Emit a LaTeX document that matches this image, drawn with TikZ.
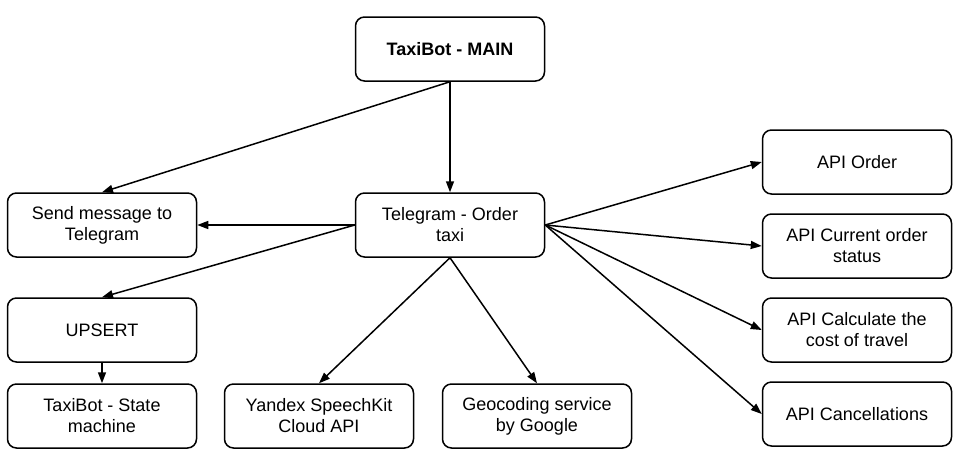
\documentclass[tikz,border=0pt]{standalone}
\usepackage{fontspec}
\setmainfont{Liberation Sans}
\usetikzlibrary{arrows.meta}
\begin{document}
\begin{tikzpicture}[x=1pt,y=-1pt,
  box/.style={draw,line width=1.5pt,rounded corners=9pt,minimum width=189pt,minimum height=64pt,
    align=center,inner sep=2pt,font=\fontsize{18}{21}\selectfont},
  conn/.style={line width=1.5pt,-{Triangle[length=11pt,width=8pt]}}]
\useasboundingbox (0,0) rectangle (960,453);
\node[box,font=\fontsize{18}{21}\selectfont\bfseries] (main) at (450,49) {TaxiBot - MAIN};
\node[box] (tg) at (450,225) {Telegram - Order\\taxi};
\node[box] (send) at (102,225) {Send message to\\Telegram};
\node[box] (ups) at (102,330) {UPSERT};
\node[box] (state) at (102,416) {TaxiBot - State\\machine};
\node[box] (yan) at (319,416) {Yandex SpeechKit\\Cloud API};
\node[box] (geo) at (537,416) {Geocoding service\\by Google};
\node[box] (ord) at (857,162) {API Order};
\node[box] (cur) at (857,246) {API Current order\\status};
\node[box] (calc) at (857,330) {API Calculate the\\cost of travel};
\node[box] (canc) at (857,414) {API Cancellations};
\draw[conn] (main.south) -- (tg.north);
\draw[conn] (main.south) -- (send.north);
\draw[conn] (tg.west) -- (send.east);
\draw[conn] (tg.west) -- (ups.north);
\draw[conn] (ups.south) -- (state.north);
\draw[conn] (tg.south) -- (yan.north);
\draw[conn] (tg.south) -- (geo.north);
\draw[conn] (tg.east) -- (ord.west);
\draw[conn] (tg.east) -- (cur.west);
\draw[conn] (tg.east) -- (calc.west);
\draw[conn] (tg.east) -- (canc.west);
\end{tikzpicture}
\end{document}
